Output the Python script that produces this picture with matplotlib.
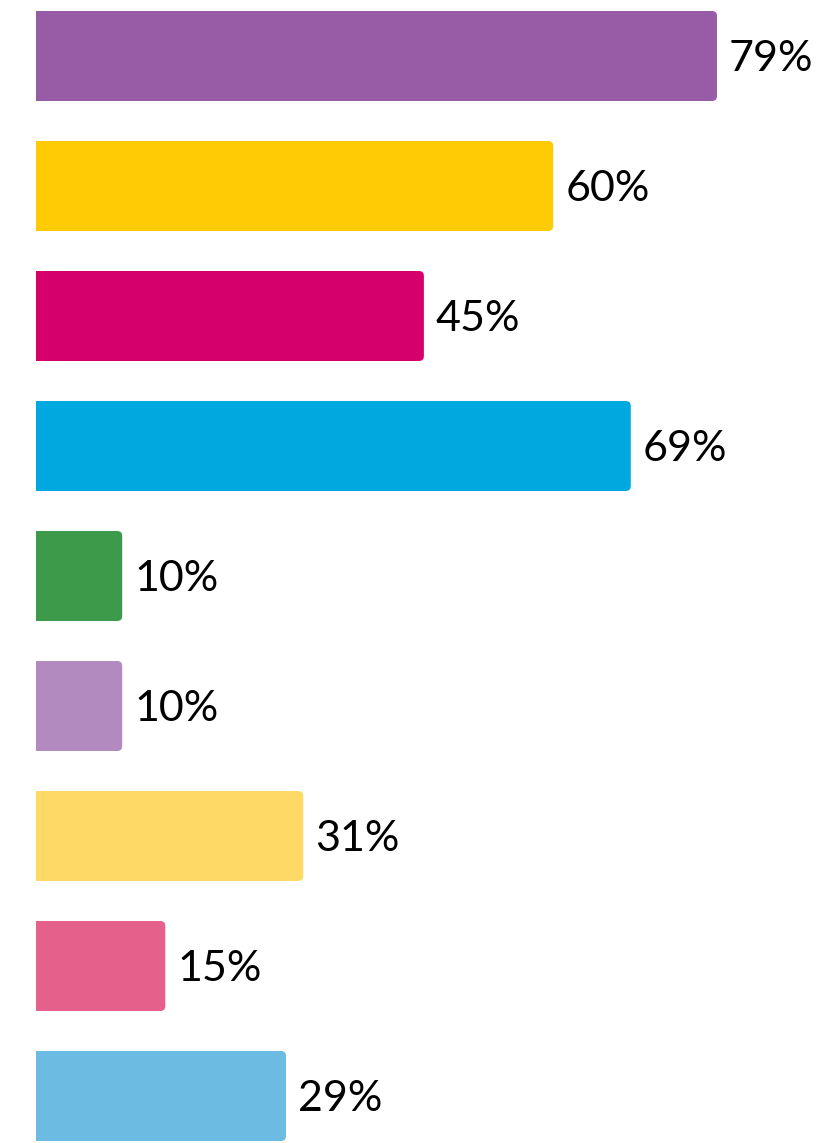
import matplotlib
matplotlib.use("Agg")
from matplotlib import pyplot as plt
from matplotlib.patches import FancyBboxPatch, Rectangle

values = [79, 60, 45, 69, 10, 10, 31, 15, 29]
labels = ["79%", "60%", "45%", "69%", "10%", "10%", "31%", "15%", "29%"]
colors = ["#985BA5", "#FFCB05", "#D6006C", "#00A8E0", "#3C9A4A",
          "#B38ABF", "#FFD966", "#E5608A", "#6CBBE2"]

W, H, DPI = 819, 1143, 100
px_x = 8.62      # pixels per percent
px_y = 130.0     # pixels per bar slot

fig = plt.figure(figsize=(W / DPI, H / DPI), dpi=DPI)
ax = fig.add_axes([0, 0, 1, 1])
ax.set_xlim(-36 / px_x, (W - 36) / px_x)
ax.set_ylim((H - 56) / px_y, -56 / px_y)
ax.axis("off")

ypos = list(range(len(values)))
bars = ax.barh(ypos, values, height=90 / px_y, color=colors)

# swap plain bars for ones with rounded right corners
r = 5 / px_x
aspect = px_x / px_y
for bar, c in zip(bars, colors):
    x, y, w, h = bar.get_x(), bar.get_y(), bar.get_width(), bar.get_height()
    bar.set_visible(False)
    ax.add_patch(FancyBboxPatch((x, y), w, h, boxstyle=f"round,pad=0,rounding_size={r}",
                                mutation_aspect=aspect, fc=c, ec="none", lw=0))
    ax.add_patch(Rectangle((x, y), w / 2, h, fc=c, ec="none", lw=0))

for yy, v, lab in zip(ypos, values, labels):
    ax.annotate(lab, (v, yy), xytext=(8.6, -2.5), textcoords="offset points",
                ha="left", va="center", fontsize=31, family="Lato",
                color="#000000")

fig.savefig("out.png", dpi=DPI)
